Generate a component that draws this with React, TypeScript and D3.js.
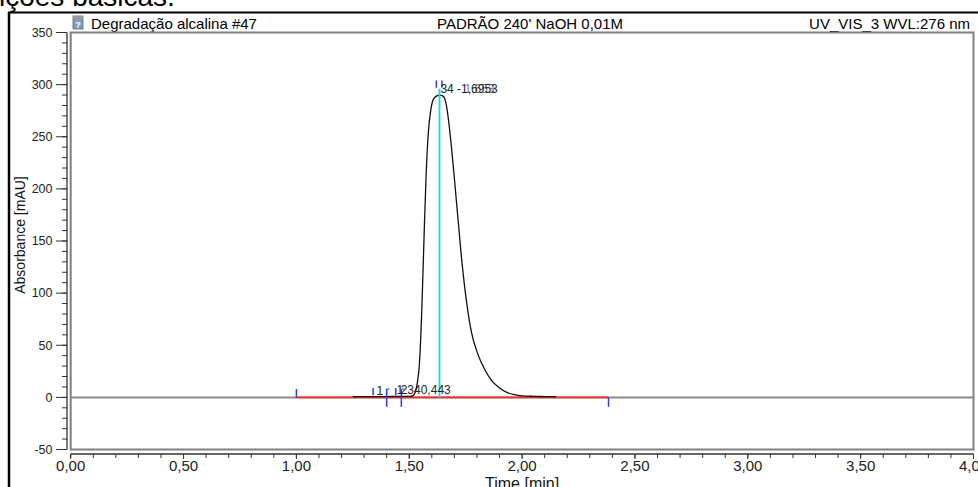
import React from "react";
import * as d3 from "d3";

// ---- data ----
const times = [1.25, 1.3, 1.35, 1.4, 1.45, 1.5, 1.515, 1.525, 1.535, 1.545, 1.555, 1.565, 1.575, 1.585, 1.595, 1.605, 1.62, 1.635, 1.65, 1.662, 1.674, 1.687, 1.7, 1.714, 1.731, 1.753, 1.776, 1.803, 1.834, 1.865, 1.9, 1.93, 1.966, 2.0, 2.05, 2.1, 2.15];
const absorbance = [0.6, 0.7, 0.8, 0.8, 0.9, 1.0, 1.5, 4, 13, 32, 80, 150, 215, 255, 275, 285, 289, 290, 289, 283, 266, 240, 210, 176, 135, 93, 62, 42, 27, 16, 9, 5, 2.6, 1.5, 1.0, 0.8, 0.6];

const xTicksMajor = [0, 0.5, 1, 1.5, 2, 2.5, 3, 3.5, 4];
const xTickLabels = ["0,00", "0,50", "1,00", "1,50", "2,00", "2,50", "3,00", "3,50", "4,00"];
const yTicksMajor = [-50, 0, 50, 100, 150, 200, 250, 300, 350];

const baselineStart = 1.0;
const baselineEnd = 2.383;
const retentionTime = 1.634;
const retentionTop = 296;

const markerTimes = [1.0, 1.34, 1.4, 1.44, 1.465, 2.383, 1.62, 1.645];
const markerLow = [0, 2, -9, 2, -9, -9, 297, 297];
const markerHigh = [8, 9, 8, 9, 8, 0, 304, 304];

const labelTexts = ["1", "1", "2340,443", "34 -1,6953", "1,653"];
const labelTimes = [1.355, 1.444, 1.462, 1.638, 1.745];
const labelValues = [2.5, 3.5, 3.5, 292, 292];

const titleLeft = "Degradação alcalina #47";
const titleCenter = "PADRÃO 240' NaOH 0,01M";
const titleRight = "UV_VIS_3 WVL:276 nm";

export default function App() {
  const W = 978, H = 487;
  const x = d3.scaleLinear().domain([0, 4]).range([70.7, 973.5]);
  const y = d3.scaleLinear().domain([-50, 350]).range([449.5, 32.5]);
  const font = "'Liberation Sans', Arial, sans-serif";

  const line = d3.line<number>()
    .x((_, i) => x(times[i]))
    .y((d) => y(d))
    .curve(d3.curveMonotoneX);

  const xMinor = d3.range(0, 41).map((i) => i / 10);
  const yMinor = d3.range(-50, 351, 10);
  const axisX = 67;
  const axisY = 454;

  return (
    <svg width={W} height={H} style={{ position: "absolute", left: 0, top: 0, background: "#fff" }} fontFamily={font}>
      <rect x={0} y={0} width={W} height={H} fill="#fff" />
      {/* text from document above */}
      <text x={-1} y={5.5} fontSize={28} fill="#000">ições básicas.</text>
      {/* outer frame */}
      <line x1={9} x2={9} y1={12} y2={H} stroke="#000" strokeWidth={2.5} />
      <line x1={8} x2={W} y1={12.5} y2={12.5} stroke="#000" strokeWidth={2} />

      {/* title row */}
      <g>
        <rect x={73} y={16} width={10} height={13} fill="#7b9dc4" stroke="#666" strokeWidth={0.8} />
        <rect x={73} y={16} width={10} height={3} fill="#999" />
        <text x={78} y={27.5} fontSize={9} fill="#fff" textAnchor="middle" fontWeight="bold">?</text>
        <text x={91} y={28.5} fontSize={15} fill="#000">{titleLeft}</text>
        <text x={530} y={28.5} fontSize={15} fill="#000" textAnchor="middle">{titleCenter}</text>
        <text x={970} y={28.5} fontSize={15} fill="#000" textAnchor="end">{titleRight}</text>
      </g>

      {/* plot box */}
      <rect x={x(0)} y={y(350)} width={x(4) - x(0)} height={y(-50) - y(350)} fill="none" stroke="#808080" strokeWidth={2} />

      {/* y axis */}
      <line x1={axisX} x2={axisX} y1={y(350)} y2={y(-50)} stroke="#333" strokeWidth={1.3} />
      {yMinor.map((v) => (
        <line key={"ym" + v} x1={axisX - 5} x2={axisX} y1={y(v)} y2={y(v)} stroke="#333" strokeWidth={1} />
      ))}
      {yTicksMajor.map((v) => (
        <g key={"yt" + v}>
          <line x1={axisX - 11} x2={axisX} y1={y(v)} y2={y(v)} stroke="#333" strokeWidth={1} />
          <text x={52.5} y={y(v) + 4.3} fontSize={12.5} textAnchor="end" fill="#222">{v}</text>
        </g>
      ))}
      <text transform={`translate(25,235) rotate(-90)`} fontSize={14} textAnchor="middle" fill="#111">Absorbance [mAU]</text>

      {/* x axis */}
      <line x1={x(0)} x2={x(4)} y1={axisY} y2={axisY} stroke="#333" strokeWidth={1.3} />
      {xMinor.map((v) => (
        <line key={"xm" + v} x1={x(v)} x2={x(v)} y1={axisY} y2={axisY + 4} stroke="#333" strokeWidth={1} />
      ))}
      {xTicksMajor.map((v, i) => (
        <g key={"xt" + v}>
          <line x1={x(v)} x2={x(v)} y1={axisY} y2={axisY + 5} stroke="#333" strokeWidth={1} />
          <text x={x(v)} y={471} fontSize={15} textAnchor="middle" fill="#222">{xTickLabels[i]}</text>
        </g>
      ))}
      <text x={(x(0) + x(4)) / 2} y={489} fontSize={16} textAnchor="middle" fill="#111">Time [min]</text>

      {/* zero line */}
      <line x1={x(0)} x2={x(4)} y1={y(0)} y2={y(0)} stroke="#8a8a8a" strokeWidth={2} />
      {/* integration baseline */}
      <line x1={x(baselineStart)} x2={x(baselineEnd)} y1={y(0)} y2={y(0)} stroke="#ff2b2b" strokeWidth={1.6} />
      {/* signal */}
      <path d={line(absorbance) || ""} fill="none" stroke="#111" strokeWidth={1.3} />
      {/* retention time line */}
      <line x1={x(retentionTime)} x2={x(retentionTime)} y1={y(0)} y2={y(retentionTop)} stroke="#00e5ee" strokeWidth={1.8} />
      {/* peak delimiters */}
      {markerTimes.map((t, i) => (
        <g key={"mk" + i}>
          <line x1={x(t)} x2={x(t)} y1={y(markerLow[i])} y2={y(markerHigh[i])} stroke="#2a3cf0" strokeWidth={1.5} />
          {markerLow[i] < 0 && markerHigh[i] > 0 ? (
            <line x1={x(t)} x2={x(t) + 3} y1={y(markerHigh[i])} y2={y(markerHigh[i])} stroke="#2a3cf0" strokeWidth={1} />
          ) : null}
        </g>
      ))}
      {/* peak labels */}
      {labelTexts.map((s, i) => (
        <text key={"lb" + i} x={x(labelTimes[i])} y={y(labelValues[i])} fontSize={12} fill="#222" fillOpacity={i === 4 ? 0.6 : 1}>{s}</text>
      ))}
    </svg>
  );
}
